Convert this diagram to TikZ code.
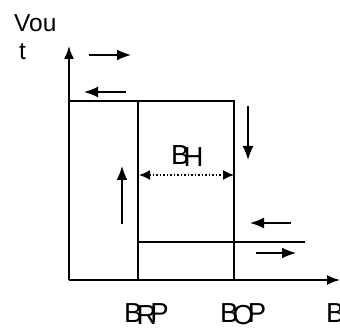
\documentclass[tikz,border=0pt]{standalone}
\usepackage{fontspec}
\setmainfont{Liberation Sans}
\usetikzlibrary{arrows.meta}
\tikzset{
  axis/.style={line width=1.7pt,-{Latex[length=13pt,width=10pt]}},
  box/.style={line width=2.2pt},
  dirarrow/.style={line width=1.6pt,-{Latex[length=14pt,width=11pt]}},
  dimarrow/.style={line width=1.5pt,dotted,{Latex[length=11pt,width=10pt]}-{Latex[length=11pt,width=10pt]}},
  lbl/.style={inner sep=0pt,anchor=base west,font=\fontsize{27.5pt}{29pt}\selectfont},
  vlbl/.style={inner sep=0pt,anchor=base west,font=\fontsize{24.5pt}{26pt}\selectfont}
}
\newcommand{\sq}{\kern-6pt}
\begin{document}
\begin{tikzpicture}[x=1pt,y=-1pt]
\useasboundingbox (0,0) rectangle (340,331);
% axes
\coordinate (O) at (69,280);
\coordinate (Ytop) at (69,46);
\coordinate (Xend) at (340,280);
\draw[axis] (O) -- (Ytop);
\draw[axis] (O) -- (Xend);
% hysteresis loop
\coordinate (TL) at (69,101);
\coordinate (TR) at (234,101);
\coordinate (RPtop) at (138,101);
\coordinate (RPbot) at (138,280);
\coordinate (OPbot) at (234,280);
\coordinate (LowL) at (138,242);
\coordinate (LowR) at (305,242);
\draw[box] (TL) -- (TR) -- (OPbot);
\draw[box] (RPtop) -- (RPbot);
\draw[box] (LowL) -- (LowR);
% direction arrows
\coordinate (a1s) at (89,55);  \coordinate (a1e) at (131,55);
\coordinate (a2s) at (126,92); \coordinate (a2e) at (84,92);
\coordinate (a3s) at (248,106); \coordinate (a3e) at (248,160);
\coordinate (a4s) at (122,224); \coordinate (a4e) at (122,166);
\coordinate (a5s) at (291,223); \coordinate (a5e) at (250,223);
\coordinate (a6s) at (256,253); \coordinate (a6e) at (296,253);
\draw[dirarrow] (a1s) -- (a1e);
\draw[dirarrow] (a2s) -- (a2e);
\draw[dirarrow] (a3s) -- (a3e);
\draw[dirarrow] (a4s) -- (a4e);
\draw[dirarrow] (a5s) -- (a5e);
\draw[dirarrow] (a6s) -- (a6e);
% hysteresis width
\coordinate (hL) at (139,175);
\coordinate (hR) at (234,175);
\draw[dimarrow] (hL) -- (hR);
% labels
\node[vlbl] (vou) at (14,32) {Vou};
\node[vlbl] (t) at (19,60) {t};
\node[lbl] (bh) at (171,165) {B\sq\raisebox{-2pt}{H}};
\node[lbl] (brp) at (124,322) {B\sq\raisebox{-2pt}{R}\sq P};
\node[lbl] (bop) at (220,322) {B\sq\raisebox{-2pt}{O}\sq P};
\node[lbl] (b) at (326,322) {B};
\end{tikzpicture}
\end{document}
